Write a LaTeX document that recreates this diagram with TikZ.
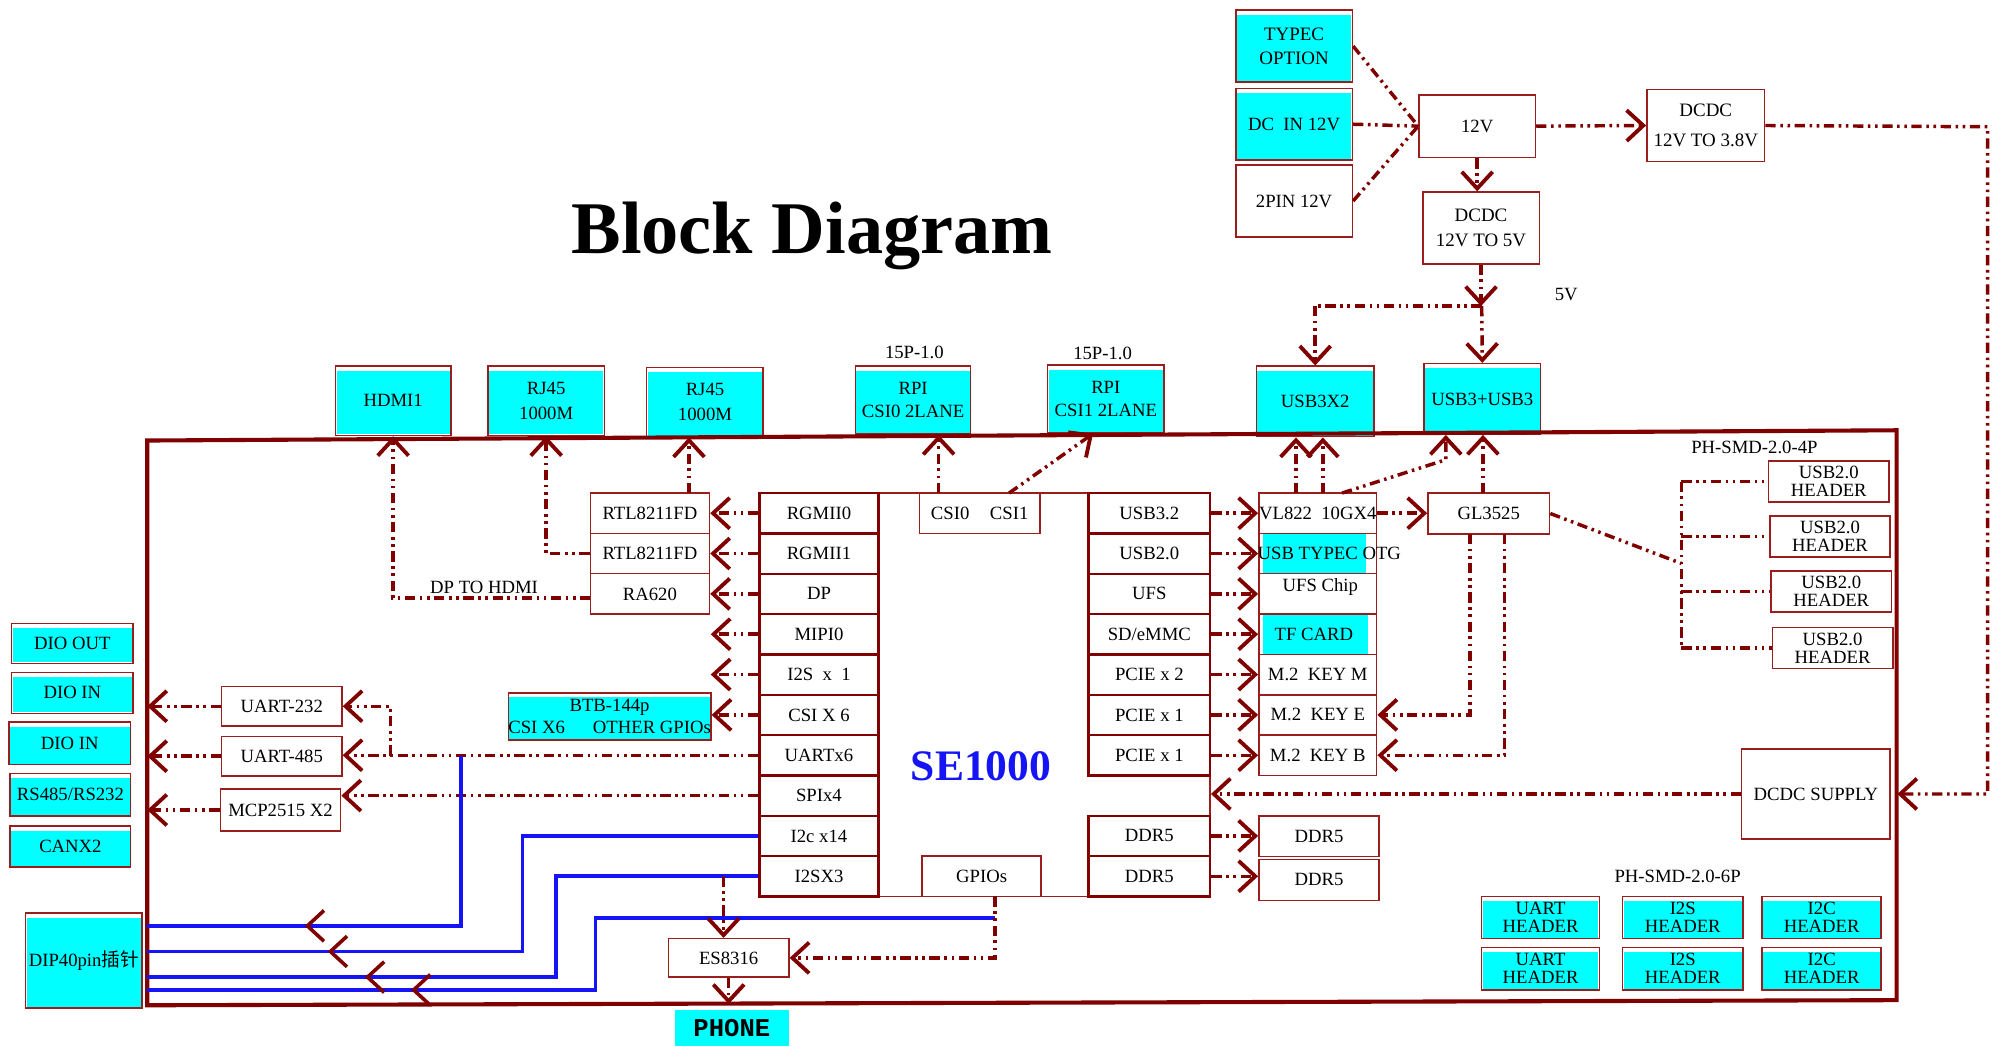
\documentclass[tikz,border=0pt]{standalone}
\usepackage{fontspec}
\setmainfont{Liberation Serif}
\newfontfamily\monobf{Liberation Mono}
\newfontfamily\cjkfont{Noto Sans CJK SC}
\usetikzlibrary{arrows.meta}
\definecolor{dred}{RGB}{128,0,0}
\definecolor{bred}{RGB}{155,30,30}
\definecolor{cyn}{RGB}{0,255,255}
\definecolor{blu}{RGB}{20,20,245}
\newcommand\mkbox[7]{\node[#1,minimum width={(#5-#3)*0.5pt},minimum height={(#6-#4)*0.5pt}] (#2) at ({(#3+#5)/2},{(#4+#6)/2}) {#7};}
\newcommand\chevron[2]{\draw[chev] ({#1+13},{#2-12}) -- (#1,#2) -- ({#1+13},{#2+12});}
\begin{document}
\begin{tikzpicture}[x=0.5pt,y=-0.5pt,
 txt/.style={font=\fontsize{7.3}{8.5}\selectfont, inner sep=0pt},
 box/.style={draw=bred, line width=0.6pt, inner sep=0pt, align=center, font=\fontsize{7.3}{8.5}\selectfont},
 cell/.style={box, draw=dred, line width=0.9pt},
 cy/.style={box, path picture={\fill[cyn] ([xshift=0.4pt,yshift=-1.8pt]path picture bounding box.north west) rectangle ([xshift=-0.4pt,yshift=0.4pt]path picture bounding box.south east);}},
 conn/.style={draw=dred, line width=1.35pt, dash pattern=on 4pt off 1.8pt on 1pt off 1.8pt on 1pt off 1.8pt},
 arr/.style={conn, -{Straight Barb[length=6.5pt,width=12pt,line width=1.5pt]}},
 bline/.style={draw=blu, line width=1.5pt},
 chev/.style={draw=dred, line width=1.4pt},
 board/.style={draw=dred, line width=1.6pt}]
\useasboundingbox (0,0) rectangle (1568,817);

% title
\node[font=\fontsize{29}{30}\selectfont\bfseries, inner sep=0pt] (title) at (634,184) {Block Diagram};

% power section
\mkbox{cy,font=\fontsize{7.4}{9.5}\selectfont}{typec}{965}{8}{1056}{64}{TYPEC\\OPTION}
\mkbox{cy}{dcin}{965}{69}{1056}{125}{DC\ \ IN 12V}
\mkbox{box}{pin}{965}{129}{1056}{185}{2PIN 12V}
\mkbox{box}{v12}{1108}{74}{1199}{123}{\raisebox{-2.5pt}{12V}}
\mkbox{box,font=\fontsize{7.4}{12}\selectfont}{d38}{1286}{70}{1378}{126}{DCDC\\12V TO 3.8V}
\mkbox{box,font=\fontsize{7.4}{10}\selectfont}{d5}{1111}{150}{1202}{206}{DCDC\\12V TO 5V}
\node[txt] (l5v) at (1223,230) {5V};

% top connectors
\mkbox{cy}{hdmi}{262}{286}{352}{340}{\raisebox{-2pt}{HDMI1}}
\mkbox{cy,font=\fontsize{7.3}{10}\selectfont}{rj1}{381}{286}{472}{340}{RJ45\\1000M}
\mkbox{cy,font=\fontsize{7.3}{10}\selectfont}{rj2}{505}{287}{596}{341}{RJ45\\1000M}
\mkbox{cy,font=\fontsize{7.3}{9}\selectfont}{rpi0}{668}{286}{758}{339}{RPI\\CSI0 2LANE}
\mkbox{cy,font=\fontsize{7.3}{9}\selectfont}{rpi1}{818}{285}{909}{338}{RPI\\CSI1 2LANE}
\node[txt] (p15a) at (714,275) {15P-1.0};
\node[txt] (p15b) at (861,276) {15P-1.0};
\mkbox{cy}{usb3a}{981}{286}{1073}{341}{USB3X2}
\mkbox{cy}{usb3b}{1112}{284}{1203}{339}{USB3+USB3}

% SE1000 block
\mkbox{box}{se}{593}{385}{945}{700}{}
\node[font=\fontsize{17}{18}\selectfont\bfseries, text=blu, inner sep=0pt] (selab) at (766,598) {SE1000};
\mkbox{cell}{l1}{593}{385}{686}{416.5}{RGMII0}
\mkbox{cell}{l2}{593}{416.5}{686}{448}{RGMII1}
\mkbox{cell}{l3}{593}{448}{686}{479.5}{DP}
\mkbox{cell}{l4}{593}{479.5}{686}{511}{MIPI0}
\mkbox{cell}{l5}{593}{511}{686}{542.5}{I2S\ \ x\ \ 1}
\mkbox{cell}{l6}{593}{542.5}{686}{574}{CSI X 6}
\mkbox{cell}{l7}{593}{574}{686}{605.5}{UARTx6}
\mkbox{cell}{l8}{593}{605.5}{686}{637}{SPIx4}
\mkbox{cell}{l9}{593}{637}{686}{668.5}{I2c x14}
\mkbox{cell}{l10}{593}{668.5}{686}{700}{I2SX3}
\mkbox{cell}{r1}{850}{385}{945}{416.5}{USB3.2}
\mkbox{cell}{r2}{850}{416.5}{945}{448}{USB2.0}
\mkbox{cell}{r3}{850}{448}{945}{479.5}{UFS}
\mkbox{cell}{r4}{850}{479.5}{945}{511}{SD/eMMC}
\mkbox{cell}{r5}{850}{511}{945}{542.5}{PCIE x 2}
\mkbox{cell}{r6}{850}{542.5}{945}{574}{PCIE x 1}
\mkbox{cell}{r7}{850}{574}{945}{605.5}{PCIE x 1}
\mkbox{cell}{r9}{850}{637}{945}{668.5}{DDR5}
\mkbox{cell}{r10}{850}{668.5}{945}{700}{DDR5}
\mkbox{box}{csi}{718}{385}{812}{416.5}{CSI0\hspace{1.1em}CSI1}
\mkbox{box}{gpio}{720}{668.5}{813}{700}{GPIOs}

% left of SE
\mkbox{box}{rtl1}{461}{385}{554}{416.5}{RTL8211FD}
\mkbox{box}{rtl2}{461}{416.5}{554}{448}{RTL8211FD}
\mkbox{box}{ra}{461}{448}{554}{479.5}{RA620}
\mkbox{cy,font=\fontsize{7.3}{8.5}\selectfont}{btb}{397}{541}{555}{578}{BTB-144p\\CSI X6\hspace{1.5em}OTHER GPIOs}
\node[txt] (dph) at (378,459) {DP TO HDMI};

% middle column
\mkbox{box}{m1}{983}{385}{1075}{416.5}{VL822\ \ 10GX4}
\node[box, minimum width=46pt, minimum height=15.75pt, path picture={\fill[cyn] ([xshift=1.5pt]path picture bounding box.north west) rectangle ([xshift=-4pt]path picture bounding box.south east);}] (m2) at (1029,432.25) {};
\node[txt] (m2t) at (1038,432.25) {USB TYPEC OTG};
\mkbox{box}{m3}{983}{448}{1075}{479.5}{}
\node[txt] (m3t) at (1031,458) {UFS Chip};
\node[box, minimum width=46pt, minimum height=15.75pt, path picture={\fill[cyn] ([xshift=1.5pt]path picture bounding box.north west) rectangle ([xshift=-3.5pt]path picture bounding box.south east);}] (m4) at (1029,495.25) {};
\node[txt] (m4t) at (1026,495.25) {TF CARD};
\mkbox{box}{m5}{983}{511}{1075}{542.5}{M.2\ \ KEY M}
\mkbox{box}{m6}{983}{542.5}{1075}{574}{M.2\ \ KEY E}
\mkbox{box}{m7}{983}{574}{1075}{605.5}{M.2\ \ KEY B}
\mkbox{box}{dd1}{983}{637}{1077}{669}{DDR5}
\mkbox{box}{dd2}{983}{671}{1077}{703}{DDR5}
\mkbox{box}{gl}{1115}{385}{1210}{417}{GL3525}

% usb2 headers
\node[txt] (ph4) at (1370,349) {PH-SMD-2.0-4P};
\mkbox{box,font=\fontsize{7.3}{7}\selectfont}{h1}{1381}{360}{1475}{392}{USB2.0\\HEADER}
\mkbox{box,font=\fontsize{7.3}{7}\selectfont}{h2}{1382}{403}{1476}{435}{USB2.0\\HEADER}
\mkbox{box,font=\fontsize{7.3}{7}\selectfont}{h3}{1383}{446}{1477}{478}{USB2.0\\HEADER}
\mkbox{box,font=\fontsize{7.3}{7}\selectfont}{h4}{1384}{490}{1478}{522}{USB2.0\\HEADER}
\mkbox{box}{sup}{1360}{585}{1476}{655}{DCDC SUPPLY}

% bottom-right headers
\node[txt] (ph6) at (1310,684) {PH-SMD-2.0-6P};
\mkbox{cy,font=\fontsize{7.3}{7}\selectfont}{uh1}{1157}{700}{1249}{733}{UART\\HEADER}
\mkbox{cy,font=\fontsize{7.3}{7}\selectfont}{ih1}{1267}{700}{1361}{733}{I2S\\HEADER}
\mkbox{cy,font=\fontsize{7.3}{7}\selectfont}{ch1}{1376}{700}{1469}{733}{I2C\\HEADER}
\mkbox{cy,font=\fontsize{7.3}{7}\selectfont}{uh2}{1157}{740}{1249}{773}{UART\\HEADER}
\mkbox{cy,font=\fontsize{7.3}{7}\selectfont}{ih2}{1267}{740}{1361}{773}{I2S\\HEADER}
\mkbox{cy,font=\fontsize{7.3}{7}\selectfont}{ch2}{1376}{740}{1469}{773}{I2C\\HEADER}

% lower left
\mkbox{box}{u232}{173}{536}{267}{567}{UART-232}
\mkbox{box}{u485}{173}{575}{267}{606}{UART-485}
\mkbox{box}{mcp}{172}{616}{266}{649}{MCP2515 X2}
\mkbox{cy}{dio1}{9}{487}{104}{518}{DIO OUT}
\mkbox{cy}{dio2}{9}{525}{104}{557}{DIO IN}
\mkbox{cy}{dio3}{7}{564}{102}{597}{DIO IN}
\mkbox{cy}{rs}{8}{604}{102}{637}{RS485/RS232}
\mkbox{cy}{can}{8}{645}{102}{677}{CANX2}
\mkbox{cy}{dip}{20}{713}{111}{787}{DIP40pin{\cjkfont 插针}}
\mkbox{box}{es}{522}{733}{616}{763}{ES8316}
\mkbox{box,draw=none,fill=cyn,font=\fontsize{10}{11}\selectfont\monobf\bfseries}{phone}{527}{789}{616}{817}{PHONE}

% board outline
\draw[board] (115,344) -- (1481,336) -- (1481,781) -- (115,785) -- cycle;

% coordinates
\coordinate (bl) at (115,500);
\coordinate (p1) at (538,385);
\coordinate (p2) at (461,467);
\coordinate (p3) at (733,385);
\coordinate (p4) at (788,385);
\coordinate (v1) at (1012,385);
\coordinate (v2) at (1033,385);
\coordinate (v3) at (1048,385);
\coordinate (v3b) at (1129,359);
\coordinate (g1) at (1158,385);
\coordinate (g2) at (1148,417);
\coordinate (g3) at (1175,417);
\coordinate (hb) at (1313,440);
\coordinate (j5) at (1157,239);
\coordinate (pr) at (1552,99);
\coordinate (ub) at (305,590);
\coordinate (mf) at (555,495.25);
\coordinate (if) at (555,526.75);
\coordinate (e1) at (565,684.25);
\coordinate (e2) at (777,700);
\coordinate (ph) at (569,784);
\coordinate (b1) at (360,590);
\coordinate (b4) at (777,717);

% power connectors
\draw[conn] (typec.east) -- (v12.west);
\draw[conn] (dcin.east) -- (v12.west);
\draw[conn] (pin.east) -- (v12.west);
\draw[arr] (v12.east) -- (d38.west);
\draw[arr] (v12.south) -- (v12.south |- d5.north);
\draw[arr] (d5.south) -- (d5.south |- j5);
\draw[conn] (j5) -- (usb3a.north |- j5);
\draw[arr] (usb3a.north |- j5) -- (usb3a.north);
\draw[arr] (j5) -- (usb3b.north);
\draw[arr] (d38.east) -- (pr) -- (pr |- sup.east) -- ([xshift=2.5pt]sup.east);
\draw[arr] (sup.west) -- (sup.west -| se.east);

% left connectors
\draw[arr] (l1.west) -- (rtl1.east);
\draw[arr] (l2.west) -- (rtl2.east);
\draw[arr] (l3.west) -- (ra.east);
\draw[arr] (l4.west) -- (mf);
\draw[arr] (l5.west) -- (if);
\draw[arr] (l6.west) -- (l6.west -| btb.east);
\draw[arr] (p1) -- (p1 |- rj2.south);
\draw[arr] (rtl2.west) -- (rj1.south |- rtl2.west) -- (rj1.south);
\draw[arr] (p2) -- (hdmi.south |- p2) -- (hdmi.south);
\draw[arr] (p3) -- (p3 |- rpi0.south);
\draw[arr] (p4) -- ([xshift=-5pt]rpi1.south);

% right connectors
\draw[arr] (r1.east) -- (m1.west);
\draw[arr] (r2.east) -- (m2.west);
\draw[arr] (r3.east) -- (m3.west);
\draw[arr] (r4.east) -- (m4.west);
\draw[arr] (r5.east) -- (m5.west);
\draw[arr] (r6.east) -- (m6.west);
\draw[arr] (r7.east) -- (m7.west);
\draw[arr] (r9.east) -- (r9.east -| dd1.west);
\draw[arr] (r10.east) -- (r10.east -| dd2.west);
\draw[arr] (m1.east) -- (m1.east -| gl.west);
\draw[arr] (v1) -- (v1 |- usb3a.south);
\draw[arr] (v2) -- (v2 |- usb3a.south);
\draw[arr] (v3) -- (v3b) -- (v3b |- usb3b.south);
\draw[arr] (g1) -- (g1 |- usb3b.south);
\draw[arr] (g2) -- (g2 |- m6.east) -- (m6.east);
\draw[arr] (g3) -- (g3 |- m7.east) -- (m7.east);
\draw[conn] (gl.east) -- (hb);
\draw[conn] (h1.west -| hb) -- (h4.west -| hb);
\draw[conn] (h1.west -| hb) -- (h1.west);
\draw[conn] (h2.west -| hb) -- (h2.west);
\draw[conn] (h3.west -| hb) -- (h3.west);
\draw[conn] (h4.west -| hb) -- (h4.west);

% lower-left connectors
\draw[arr] (l7.west) -- (l7.west -| u485.east);
\draw[arr] (ub) -- (ub |- u232.east) -- (u232.east);
\draw[arr] (l8.west) -- (l8.west -| mcp.east);
\draw[arr] (u232.west) -- (u232.west -| bl);
\draw[arr] (u485.west) -- (u485.west -| bl);
\draw[arr] (mcp.west) -- (mcp.west -| bl);

% blue buses
\draw[bline] (b1) |- (115,723);
\draw[bline] (l9.west) -| (408,743) -- (115,743);
\draw[bline] (l10.west) -| (434,763) -- (115,763);
\draw[bline] (b4) -| (465,773) -- (115,773);
\chevron{240}{723}
\chevron{258}{743}
\chevron{287}{763}
\chevron{323}{773}

% audio
\draw[arr] (e1) -- (e1 |- es.north);
\draw[arr] (e2) -- (e2 |- es.east) -- (es.east);
\draw[arr] (es.south) -- (ph);
\end{tikzpicture}
\end{document}
